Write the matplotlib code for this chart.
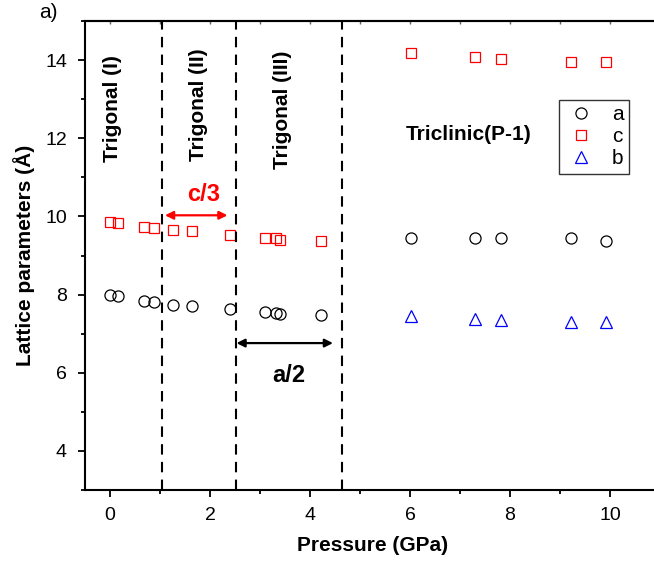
import matplotlib.pyplot as plt
from matplotlib.ticker import MultipleLocator

plt.rcParams['font.family'] = ['Liberation Sans', 'DejaVu Sans']

# trigonal + triclinic data (pressure in GPa, lattice params in Angstrom)
p_trig = [0.0, 0.15, 0.67, 0.88, 1.27, 1.65, 2.40, 3.11, 3.32, 3.41, 4.23]
a_trig = [7.98, 7.96, 7.83, 7.80, 7.74, 7.70, 7.62, 7.55, 7.54, 7.51, 7.47]
c_trig = [9.85, 9.84, 9.74, 9.71, 9.66, 9.63, 9.53, 9.44, 9.44, 9.41, 9.37]

p_tric = [6.02, 7.31, 7.82, 9.23, 9.93]
a_tric = [9.45, 9.45, 9.44, 9.44, 9.38]
c_tric = [14.18, 14.07, 14.04, 13.96, 13.96]
b_tric = [7.46, 7.37, 7.35, 7.31, 7.29]

boundaries = [1.03, 2.52, 4.64]

fig = plt.figure(figsize=(6.54, 5.65), dpi=100)
ax = fig.add_axes([0.130, 0.1327, 0.879, 0.830])

ax.plot(p_trig + p_tric, a_trig + a_tric, 'o', mfc='none', mec='black', ms=8, mew=0.9, label='a')
ax.plot(p_trig + p_tric, c_trig + c_tric, 's', mfc='none', mec='red', ms=7, mew=0.9, label='c')
ax.plot(p_tric, b_tric, '^', mfc='none', mec='blue', ms=8.5, mew=0.9, label='b')

for xb in boundaries:
    ax.axvline(xb, color='black', ls=(0, (5, 3.5)), lw=1.5)

ax.set_xlim(-0.5, 11)
ax.set_ylim(3, 15)
ax.xaxis.set_major_locator(MultipleLocator(2))
ax.xaxis.set_minor_locator(MultipleLocator(1))
ax.set_yticks([4, 6, 8, 10, 12, 14])
ax.yaxis.set_minor_locator(MultipleLocator(1))
ax.tick_params(which='both', direction='out', labelsize=14, width=1.3)
ax.tick_params(which='major', length=5)
ax.tick_params(which='minor', length=3)
ax.tick_params(axis='x', which='major', pad=7)
ax.tick_params(axis='y', which='major', pad=8)

# tiny inward ticks along the top
sec = ax.secondary_xaxis('top')
sec.set_xticks(range(0, 11))
sec.tick_params(direction='in', length=2, width=1, labeltop=False, color='0.4')
sec.spines['top'].set_linewidth(1.5)

for sp in ax.spines.values():
    sp.set_linewidth(1.5)

ax.set_xlabel('Pressure (GPa)', fontsize=15, fontweight='bold', labelpad=9)
ax.set_ylabel('Lattice parameters (\u00c5)', fontsize=15, fontweight='bold', labelpad=7)

tk = dict(fontsize=15, fontweight='bold', rotation=90, ha='center', va='center')
ax.text(0.04, 12.77, 'Trigonal (I)', **tk)
ax.text(1.77, 12.87, 'Trigonal (II)', **tk)
ax.text(3.45, 12.74, 'Trigonal (III)', **tk)
ax.text(7.18, 12.1, 'Triclinic(P-1)', fontsize=15, fontweight='bold', ha='center', va='center')

ax.annotate('', xy=(1.10, 10.03), xytext=(2.35, 10.03),
            arrowprops=dict(arrowstyle='<|-|>', color='red', lw=1.6, mutation_scale=12, shrinkA=0, shrinkB=0))
ax.text(1.87, 10.56, 'c/3', color='red', fontsize=17, fontweight='bold', ha='center', va='center')

ax.annotate('', xy=(2.53, 6.76), xytext=(4.46, 6.76),
            arrowprops=dict(arrowstyle='<|-|>', color='black', lw=1.6, mutation_scale=12, shrinkA=0, shrinkB=0))
ax.text(3.57, 5.92, 'a/2', color='black', fontsize=17, fontweight='bold', ha='center', va='center')

fig.text(48 / 654, 1 - 13 / 565, 'a)', fontsize=15, ha='center', va='center')

leg = ax.legend(loc='upper left', bbox_to_anchor=(0.824, 0.832), fontsize=15,
                frameon=True, fancybox=False, edgecolor='black', handletextpad=0.7,
                borderpad=0.25, labelspacing=0.15, handlelength=1.6, borderaxespad=0)
leg.get_frame().set_linewidth(1.0)

fig.savefig('out.png', dpi=100)
